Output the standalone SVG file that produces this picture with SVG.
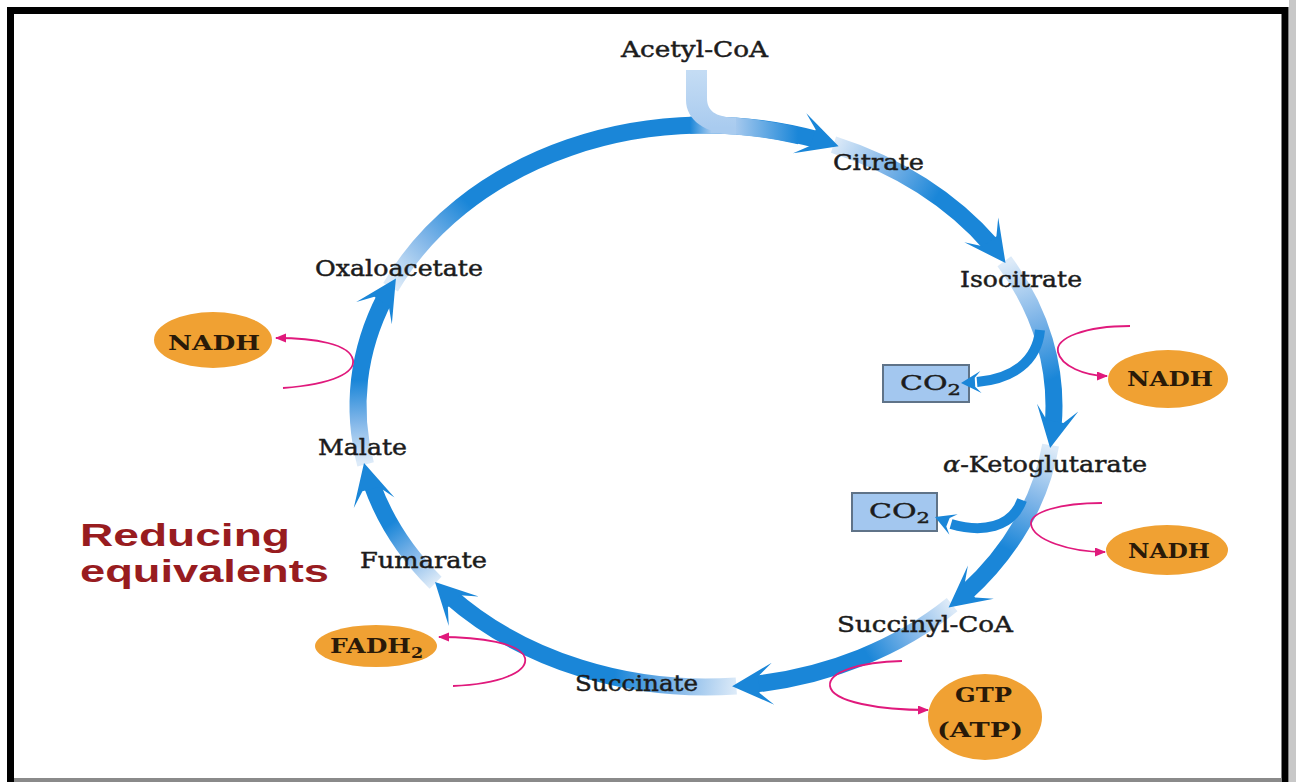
<svg xmlns="http://www.w3.org/2000/svg" xmlns:xlink="http://www.w3.org/1999/xlink" width="1296" height="782" viewBox="0 0 1296 782">
<style>
.lbl{font-family:"DejaVu Serif","Liberation Serif",serif;font-size:22px;fill:#1c1c1c;stroke:#1c1c1c;stroke-width:0.45;}
.nd{font-family:"DejaVu Serif","Liberation Serif",serif;font-size:20px;font-weight:bold;fill:#2a1a08;}
.co{font-family:"DejaVu Serif","Liberation Serif",serif;font-size:20px;fill:#1c1c1c;stroke:#1c1c1c;stroke-width:0.4;}
.ell{fill:#f0a133;}
.box{fill:#a3c7ef;stroke:#5f7388;stroke-width:2;}
.seg{fill:none;stroke-width:17;}
.head{fill:#1a86d8;}
.br{fill:none;stroke:#1a86d8;stroke-width:10;}
.mg{fill:none;stroke:#e0197c;stroke-width:1.8;marker-end:url(#mh);}
.red{font-family:"Liberation Sans",Arial,sans-serif;font-size:31px;font-weight:bold;fill:#981c1f;}
</style>
<defs>
<marker id="mh" markerUnits="userSpaceOnUse" markerWidth="12" markerHeight="10" refX="10" refY="4.5" orient="auto">
<path d="M0,0 L11,4.5 L0,9 Z" fill="#e0197c"/>
</marker>
<path id="head" d="M0,0 L-41,-21 L-27,-8.5 L-27,8.5 L-41,21 Z"/>
<path id="shead" d="M0,0 L-20,-11 L-14,-4.5 L-14,4.5 L-20,11 Z"/>
<linearGradient id="g1" gradientUnits="userSpaceOnUse" x1="393" y1="283" x2="470" y2="205"><stop offset="0" stop-color="#dceaf8"/><stop offset="0.5" stop-color="#7fb5e8"/><stop offset="1" stop-color="#1a86d8"/></linearGradient>
<linearGradient id="g2" gradientUnits="userSpaceOnUse" x1="835" y1="142" x2="935" y2="200"><stop offset="0" stop-color="#dceaf8"/><stop offset="0.5" stop-color="#7fb5e8"/><stop offset="1" stop-color="#1a86d8"/></linearGradient>
<linearGradient id="g3" gradientUnits="userSpaceOnUse" x1="1005" y1="264" x2="1050" y2="380"><stop offset="0" stop-color="#dceaf8"/><stop offset="0.5" stop-color="#7fb5e8"/><stop offset="1" stop-color="#1a86d8"/></linearGradient>
<linearGradient id="g4" gradientUnits="userSpaceOnUse" x1="1050" y1="448" x2="1005" y2="548"><stop offset="0" stop-color="#dceaf8"/><stop offset="0.5" stop-color="#7fb5e8"/><stop offset="1" stop-color="#1a86d8"/></linearGradient>
<linearGradient id="g5" gradientUnits="userSpaceOnUse" x1="950" y1="606" x2="868" y2="656"><stop offset="0" stop-color="#dceaf8"/><stop offset="0.5" stop-color="#7fb5e8"/><stop offset="1" stop-color="#1a86d8"/></linearGradient>
<linearGradient id="g6" gradientUnits="userSpaceOnUse" x1="736" y1="688" x2="615" y2="672"><stop offset="0" stop-color="#dceaf8"/><stop offset="0.5" stop-color="#7fb5e8"/><stop offset="1" stop-color="#1a86d8"/></linearGradient>
<linearGradient id="g7" gradientUnits="userSpaceOnUse" x1="436" y1="582" x2="393" y2="522"><stop offset="0" stop-color="#dceaf8"/><stop offset="0.5" stop-color="#7fb5e8"/><stop offset="1" stop-color="#1a86d8"/></linearGradient>
<linearGradient id="g8" gradientUnits="userSpaceOnUse" x1="365" y1="462" x2="362" y2="380"><stop offset="0" stop-color="#dceaf8"/><stop offset="0.5" stop-color="#7fb5e8"/><stop offset="1" stop-color="#1a86d8"/></linearGradient>
<linearGradient id="gin" gradientUnits="userSpaceOnUse" x1="0" y1="72" x2="0" y2="128"><stop offset="0" stop-color="#c4dcf4"/><stop offset="1" stop-color="#a9cbef"/></linearGradient>
<linearGradient id="gov" gradientUnits="userSpaceOnUse" x1="690" y1="0" x2="798" y2="0"><stop offset="0" stop-color="#1a86d8"/><stop offset="0.2" stop-color="#a9cbef"/><stop offset="0.42" stop-color="#a6c9ee"/><stop offset="1" stop-color="#1a86d8"/></linearGradient>
</defs>

<rect x="0" y="0" width="1296" height="782" fill="#ffffff"/>

<g id="frame">
<rect x="1289" y="0" width="7" height="782" fill="#c8c8c8"/>
<path d="M10.5,782 V10.5 H1285 V782" fill="none" stroke="#000" stroke-width="7"/>
<rect x="14" y="778" width="1268" height="4" fill="#8a8a8a"/>
</g>

<g id="co2-a"><rect class="box" x="883" y="365" width="86" height="37"/><text class="co" transform="translate(900,390) scale(1.5,1)">CO<tspan font-size="14" dy="5">2</tspan></text></g>
<g id="co2-b"><rect class="box" x="852" y="493" width="85" height="38"/><text class="co" transform="translate(869,518) scale(1.5,1)">CO<tspan font-size="14" dy="5">2</tspan></text></g>

<g id="connectors">
<path class="seg" stroke="url(#g1)" d="M390.6,287.3 A348,281 0 0 1 817.6,139.8"/>
<path class="seg" stroke="url(#g2)" d="M833.5,144.6 A348,281 0 0 1 991.7,245.6"/>
<path class="seg" stroke="url(#g3)" d="M1004.3,261.3 A348,281 0 0 1 1053.1,426.1"/>
<path class="seg" stroke="url(#g4)" d="M1050.6,445.1 A348,281 0 0 1 965.4,593.3"/>
<path class="seg" stroke="url(#g5)" d="M952.1,604.7 A348,281 0 0 1 753.8,684.3"/>
<path class="seg" stroke="url(#g6)" d="M736.3,685.9 A348,281 0 0 1 449.4,595.8"/>
<path class="seg" stroke="url(#g7)" d="M435.6,582.8 A348,281 0 0 1 371.5,483.5"/>
<path class="seg" stroke="url(#g8)" d="M365.6,464.4 A348,281 0 0 1 385.0,297.6"/>
<path class="seg" stroke="url(#gov)" d="M690,125.3 A348,281 0 0 1 800,136"/>
<path d="M686,70 H707 V98 C707,110 714,117.2 736,117.6 L736,134.5 C705,134 686,120 686,100 Z" fill="url(#gin)"/>
<use href="#head" class="head" transform="translate(838.6,146.2) rotate(18.4)"/>
<use href="#head" class="head" transform="translate(1005.5,263.0) rotate(53.8)"/>
<use href="#head" class="head" transform="translate(1050.1,448.0) rotate(100.6)"/>
<use href="#head" class="head" transform="translate(948.6,607.4) rotate(141.9)"/>
<use href="#head" class="head" transform="translate(732.1,686.2) rotate(176.5)"/>
<use href="#head" class="head" transform="translate(435,582) rotate(-134.5)"/>
<use href="#head" class="head" transform="translate(364,463) rotate(-104.3)"/>
<use href="#head" class="head" transform="translate(395.9,278.4) rotate(-57.8)"/>
<path class="br" d="M1040,330 C1037,362 1012,379 977,382"/>
<use href="#shead" class="head" transform="translate(961,383) rotate(177)"/>
<path class="br" d="M1022,500 C1012,528 982,533 951,524"/>
<use href="#shead" class="head" transform="translate(935,517) rotate(202)"/>
<path class="mg" d="M283,388 C335,384 355,372 353,360 C350,344 315,338 276,338"/>
<path class="mg" d="M1130,326 C1085,326 1055,338 1058,352 C1061,366 1085,376 1107,376"/>
<path class="mg" d="M1102,503 C1060,503 1030,512 1031,524 C1033,540 1070,552 1105,552"/>
<path class="mg" d="M902,661 C860,662 828,672 830,686 C832,702 880,710 928,710"/>
<path class="mg" d="M453,686 C500,684 528,672 525,658 C521,643 480,637 439,637"/>
</g>

<g id="acetyl-coa"><text class="lbl" x="621" y="57" textLength="147" lengthAdjust="spacingAndGlyphs">Acetyl-CoA</text></g>
<g id="citrate"><text class="lbl" x="833" y="170" textLength="91" lengthAdjust="spacingAndGlyphs">Citrate</text></g>
<g id="isocitrate"><text class="lbl" x="960" y="287" textLength="122" lengthAdjust="spacingAndGlyphs">Isocitrate</text></g>
<g id="a-ketoglutarate"><text class="lbl" x="943" y="472" textLength="204" lengthAdjust="spacingAndGlyphs"><tspan font-style="italic">α</tspan>-Ketoglutarate</text></g>
<g id="succinyl-coa"><text class="lbl" x="837" y="632" textLength="176" lengthAdjust="spacingAndGlyphs">Succinyl-CoA</text></g>
<g id="succinate"><text class="lbl" x="575" y="691" textLength="123" lengthAdjust="spacingAndGlyphs">Succinate</text></g>
<g id="fumarate"><text class="lbl" x="360" y="568" textLength="127" lengthAdjust="spacingAndGlyphs">Fumarate</text></g>
<g id="malate"><text class="lbl" x="318" y="455" textLength="89" lengthAdjust="spacingAndGlyphs">Malate</text></g>
<g id="oxaloacetate"><text class="lbl" x="315" y="276" textLength="168" lengthAdjust="spacingAndGlyphs">Oxaloacetate</text></g>

<g id="nadh-left"><ellipse class="ell" cx="213" cy="340" rx="59" ry="28"/><text class="nd" x="168" y="350" textLength="92" lengthAdjust="spacingAndGlyphs">NADH</text></g>
<g id="nadh-1"><ellipse class="ell" cx="1168" cy="379" rx="60" ry="29"/><text class="nd" x="1127" y="386" textLength="86" lengthAdjust="spacingAndGlyphs">NADH</text></g>
<g id="nadh-2"><ellipse class="ell" cx="1167" cy="550" rx="61" ry="25"/><text class="nd" x="1128" y="558" textLength="82" lengthAdjust="spacingAndGlyphs">NADH</text></g>
<g id="fadh2"><ellipse class="ell" cx="376" cy="646" rx="61" ry="21"/><text class="nd" transform="translate(330,653) scale(1.25,1)">FADH<tspan font-size="14" dy="5">2</tspan></text></g>
<g id="gtp"><ellipse class="ell" cx="985" cy="717" rx="57" ry="43"/><text class="nd" x="955" y="702" textLength="57" lengthAdjust="spacingAndGlyphs">GTP</text><text class="nd" x="937" y="737" textLength="86" lengthAdjust="spacingAndGlyphs">(ATP)</text></g>

<g id="reducing-equivalents"><text class="red" x="80" y="546" textLength="210" lengthAdjust="spacingAndGlyphs">Reducing</text><text class="red" x="80" y="582" textLength="249" lengthAdjust="spacingAndGlyphs">equivalents</text></g>
</svg>
